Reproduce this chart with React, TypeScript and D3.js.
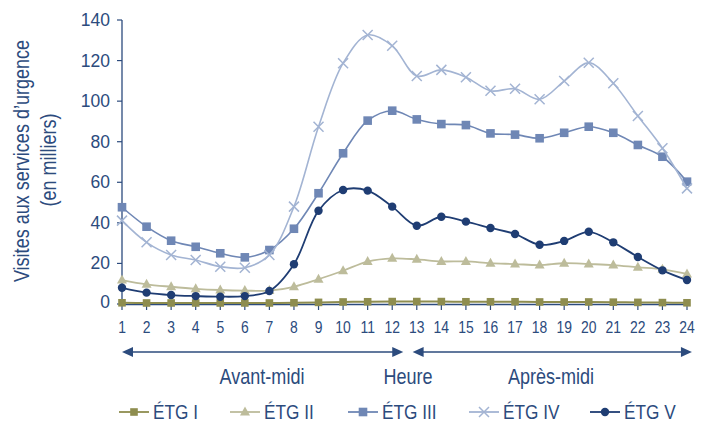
import React from "react";
import * as d3 from "d3";

const hours = d3.range(1, 25);
const yTicks = [0, 20, 40, 60, 80, 100, 120, 140];

const etg1 = [0.6, 0.5, 0.5, 0.5, 0.5, 0.5, 0.5, 0.6, 0.8, 1.0, 1.1, 1.2, 1.2, 1.2, 1.1, 1.1, 1.1, 1.0, 1.0, 1.0, 0.9, 0.8, 0.7, 0.6];
const etg2 = [11.8, 9.7, 8.5, 7.5, 6.9, 6.6, 6.6, 8.5, 12.2, 16.4, 20.9, 22.5, 22.0, 21.0, 21.0, 20.1, 19.7, 19.2, 20.1, 19.7, 19.2, 18.1, 17.1, 14.8];
const etg3 = [47.7, 38.1, 31.2, 28.2, 25.0, 23.0, 26.6, 37.1, 54.6, 74.3, 90.4, 95.3, 91.0, 88.7, 88.2, 84.1, 83.5, 81.7, 84.4, 87.4, 84.4, 78.4, 72.6, 60.3];
const etg4 = [41.1, 30.4, 24.2, 21.7, 18.4, 17.9, 24.2, 48.0, 87.4, 118.7, 132.6, 127.3, 112.4, 115.4, 111.8, 105.1, 106.1, 100.9, 109.9, 118.9, 108.8, 92.7, 76.8, 57.0];
const etg5 = [8.0, 5.6, 4.4, 3.9, 3.6, 3.9, 6.4, 19.6, 46.0, 56.2, 55.9, 48.0, 38.6, 43.0, 40.6, 37.5, 34.5, 29.2, 31.1, 35.6, 30.4, 23.2, 16.6, 11.8];

const seriesNames = ["ÉTG I", "ÉTG II", "ÉTG III", "ÉTG IV", "ÉTG V"];
const seriesValues = [etg1, etg2, etg3, etg4, etg5];
const seriesColors = ["#8e8d4f", "#bdbc9b", "#6f87b5", "#a3b4d3", "#1f3d73"];
const seriesMarkers = ["smallsquare", "triangle", "square", "cross", "circle"];
const seriesWidths = [2, 1.8, 1.6, 1.6, 1.8];

const periodLabels = ["Avant-midi", "Heure", "Après-midi"];
const yTitle = ["Visites aux services d’urgence", "(en milliers)"];

const TEXT = "#2c4b7d";
const FONT = "'Liberation Sans', Arial, sans-serif";
const NARROW = 0.82;

function NText({
  x,
  y,
  size,
  anchor = "start",
  rotate = 0,
  children,
}: {
  x: number;
  y: number;
  size: number;
  anchor?: string;
  rotate?: number;
  children: React.ReactNode;
}) {
  return (
    <text
      transform={`translate(${x},${y}) rotate(${rotate}) scale(${NARROW},1)`}
      textAnchor={anchor}
      dominantBaseline="central"
      fontSize={size}
      fill={TEXT}
    >
      {children}
    </text>
  );
}

function Marker({ kind, x, y, color }: { kind: string; x: number; y: number; color: string }) {
  if (kind === "smallsquare") return <rect x={x - 3.8} y={y - 3.8} width={7.6} height={7.6} fill={color} />;
  if (kind === "square") return <rect x={x - 4.3} y={y - 4.3} width={8.6} height={8.6} fill={color} />;
  if (kind === "triangle")
    return <path d={`M${x},${y - 5.5}L${x + 5},${y + 3.5}L${x - 5},${y + 3.5}Z`} fill={color} />;
  if (kind === "circle") return <circle cx={x} cy={y} r={4.2} fill={color} />;
  return (
    <path
      d={`M${x - 5},${y - 5}L${x + 5},${y + 5}M${x - 5},${y + 5}L${x + 5},${y - 5}`}
      stroke={color}
      strokeWidth={1.5}
      fill="none"
    />
  );
}

export default function App() {
  const W = 704;
  const H = 429;
  const x = d3.scaleLinear().domain([1, 24]).range([122, 687]);
  const y = d3.scaleLinear().domain([0, 140]).range([304, 20]);
  const line = d3
    .line<number>()
    .x((_, i) => x(hours[i]))
    .y((d) => y(d))
    .curve(d3.curveCatmullRom.alpha(0.5));

  const arrowY = 352;
  const a1 = [x(1), x(12.45)];
  const a2 = [x(12.83), x(24.2)];
  const arrowHead = (px: number, dir: number) =>
    `M${px},${arrowY}L${px - dir * 11},${arrowY - 5}L${px - dir * 11},${arrowY + 5}Z`;

  const legendX = [119, 230, 348, 469, 590];

  return (
    <svg
      width={W}
      height={H}
      style={{ position: "absolute", left: 0, top: 0, background: "#fff" }}
      fontFamily={FONT}
    >
      {/* y axis */}
      <line x1={x(1)} x2={x(1)} y1={y(140)} y2={y(0)} stroke={TEXT} strokeWidth={1.3} />
      {yTicks.map((t) => (
        <g key={t}>
          <line x1={x(1) - 5} x2={x(1)} y1={y(t)} y2={y(t)} stroke={TEXT} strokeWidth={1.2} />
          <text
            x={x(1) - 12}
            y={y(t) - (t === 0 ? 2 : 0)}
            textAnchor="end"
            dominantBaseline="central"
            fontSize={17.5}
            fill={TEXT}
          >
            {t}
          </text>
        </g>
      ))}
      {/* x axis */}
      <line x1={x(1)} x2={x(24)} y1={y(0) + 0.5} y2={y(0) + 0.5} stroke={TEXT} strokeWidth={1.4} />
      {hours.map((h) => (
        <g key={h}>
          <line x1={x(h)} x2={x(h)} y1={y(0)} y2={y(0) + 6} stroke={TEXT} strokeWidth={1.2} />
          <NText x={x(h)} y={y(0) + 22.5} size={17} anchor="middle">
            {h}
          </NText>
        </g>
      ))}

      {/* y title */}
      <NText x={21} y={161} size={22} anchor="middle" rotate={-90}>
        {yTitle[0]}
      </NText>
      <NText x={48} y={160} size={22} anchor="middle" rotate={-90}>
        {yTitle[1]}
      </NText>

      {/* series */}
      {seriesValues.map((vals, si) => (
        <g key={si}>
          <path d={line(vals) || ""} fill="none" stroke={seriesColors[si]} strokeWidth={seriesWidths[si]} />
          {vals.map((v, i) => (
            <Marker key={i} kind={seriesMarkers[si]} x={x(hours[i])} y={y(v)} color={seriesColors[si]} />
          ))}
        </g>
      ))}

      {/* arrows */}
      <line x1={a1[0] + 6} x2={a1[1] - 6} y1={arrowY} y2={arrowY} stroke={TEXT} strokeWidth={1.5} />
      <path d={arrowHead(a1[0], -1)} fill={TEXT} />
      <path d={arrowHead(a1[1], 1)} fill={TEXT} />
      <line x1={a2[0] + 6} x2={a2[1] - 6} y1={arrowY} y2={arrowY} stroke={TEXT} strokeWidth={1.5} />
      <path d={arrowHead(a2[0], -1)} fill={TEXT} />
      <path d={arrowHead(a2[1], 1)} fill={TEXT} />

      <NText x={262} y={376.5} size={22} anchor="middle">
        {periodLabels[0]}
      </NText>
      <NText x={408} y={376.5} size={22} anchor="middle">
        {periodLabels[1]}
      </NText>
      <NText x={551} y={376.5} size={22} anchor="middle">
        {periodLabels[2]}
      </NText>

      {/* legend */}
      {seriesNames.map((n, si) => {
        const lx = legendX[si];
        const ly = 412;
        return (
          <g key={n}>
            <line x1={lx} x2={lx + 30} y1={ly} y2={ly} stroke={seriesColors[si]} strokeWidth={1.8} />
            <Marker kind={seriesMarkers[si]} x={lx + 15} y={ly} color={seriesColors[si]} />
            <NText x={lx + 34} y={ly} size={21}>
              {n}
            </NText>
          </g>
        );
      })}
    </svg>
  );
}
